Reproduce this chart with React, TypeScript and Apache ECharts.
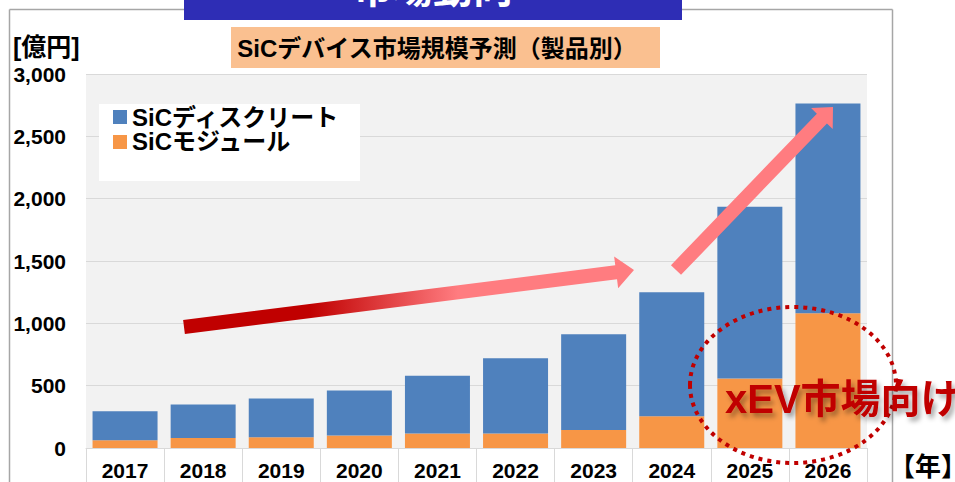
import React, { useEffect, useRef } from "react";
import * as echarts from "echarts";

const years = ["2017", "2018", "2019", "2020", "2021", "2022", "2023", "2024", "2025", "2026"];
const moduleValues = [62, 80, 86, 100, 116, 116, 145, 255, 558, 1080];
const discreteValues = [233, 269, 311, 361, 463, 603, 767, 994, 1377, 1683];
const seriesNames = ["SiCディスクリート", "SiCモジュール"];
const yMax = 3000;
const yInterval = 500;

const FONT = "'Liberation Sans', 'Noto Sans CJK JP', sans-serif";

function arrowPoints(
  sx: number, sy: number, tx: number, ty: number,
  shaftHalf: number, headLen: number, headHalf: number
): number[][] {
  const dx = tx - sx;
  const dy = ty - sy;
  const len = Math.sqrt(dx * dx + dy * dy);
  const ux = dx / len;
  const uy = dy / len;
  const nx = -uy;
  const ny = ux;
  const bx = tx - headLen * ux;
  const by = ty - headLen * uy;
  return [
    [sx + shaftHalf * nx, sy + shaftHalf * ny],
    [bx + shaftHalf * nx, by + shaftHalf * ny],
    [bx + headHalf * nx, by + headHalf * ny],
    [tx, ty],
    [bx - headHalf * nx, by - headHalf * ny],
    [bx - shaftHalf * nx, by - shaftHalf * ny],
    [sx - shaftHalf * nx, sy - shaftHalf * ny],
  ];
}

export default function App() {
  const ref = useRef<HTMLDivElement>(null);

  useEffect(() => {
    if (!ref.current) return;
    const chart = echarts.init(ref.current, undefined, { renderer: "svg" });

    const gradient = new echarts.graphic.LinearGradient(0, 0, 1, 0, [
      { offset: 0, color: "#c00000" },
      { offset: 0.28, color: "#c00000" },
      { offset: 0.61, color: "#ff7c80" },
      { offset: 1, color: "#ff7c80" },
    ]);

    chart.setOption({
      animation: false,
      backgroundColor: "#ffffff",
      textStyle: { fontFamily: FONT },
      grid: {
        left: 86,
        right: 88,
        top: 74,
        bottom: 34,
        show: true,
        backgroundColor: "#f2f2f2",
        borderWidth: 0,
      },
      legend: {
        orient: "vertical",
        left: 113,
        top: 105,
        padding: 0,
        itemWidth: 14,
        itemHeight: 14,
        itemGap: 1,
        icon: "rect",
        selectedMode: false,
        data: seriesNames,
        textStyle: { fontSize: 24, fontWeight: "bold", color: "#000", fontFamily: FONT },
        z: 10,
      },
      xAxis: {
        type: "category",
        data: years,
        axisLine: { show: true, lineStyle: { color: "#d9d9d9" } },
        axisTick: { show: true, length: 40, interval: 0, alignWithLabel: false, lineStyle: { color: "#d9d9d9" } },
        axisLabel: { fontSize: 21, fontWeight: "bold", color: "#000", margin: 12, fontFamily: FONT, interval: 0 },
      },
      yAxis: {
        type: "value",
        min: 0,
        max: yMax,
        interval: yInterval,
        axisLine: { show: false },
        axisTick: { show: false },
        splitLine: { lineStyle: { color: "#d9d9d9", width: 1 } },
        axisLabel: {
          fontSize: 21,
          fontWeight: "bold",
          color: "#000",
          margin: 20,
          fontFamily: FONT,
          formatter: (v: number) => v.toLocaleString("en-US"),
        },
      },
      series: [
        {
          name: seriesNames[1],
          type: "bar",
          stack: "total",
          barWidth: 65,
          data: moduleValues,
          itemStyle: { color: "#f79646" },
        },
        {
          name: seriesNames[0],
          type: "bar",
          stack: "total",
          barWidth: 65,
          data: discreteValues,
          itemStyle: { color: "#4f81bd" },
        },
      ],
      graphic: [
        // frame
        { type: "line", z: 1, shape: { x1: 9.5, y1: 9.5, x2: 892.5, y2: 9.5 }, style: { stroke: "#a6a6a6", lineWidth: 1.5 } },
        { type: "line", z: 1, shape: { x1: 9.5, y1: 9.5, x2: 9.5, y2: 482 }, style: { stroke: "#a6a6a6", lineWidth: 1.5 } },
        { type: "line", z: 1, shape: { x1: 892.5, y1: 9.5, x2: 892.5, y2: 482 }, style: { stroke: "#a6a6a6", lineWidth: 1.5 } },
        // banner
        { type: "rect", z: 2, shape: { x: 184, y: 0, width: 498, height: 20 }, style: { fill: "#2e2db5" } },
        {
          type: "text", z: 3, x: 433, y: 9,
          style: { text: "市場動向", fill: "#ffffff", fontSize: 40, fontWeight: "bold", fontFamily: FONT, align: "center", verticalAlign: "bottom" },
        },
        // title box
        { type: "rect", z: 2, shape: { x: 231, y: 27, width: 429, height: 41 }, style: { fill: "#fac090" } },
        {
          type: "text", z: 3, x: 437, y: 48,
          style: { text: "SiCデバイス市場規模予測（製品別）", fill: "#000", fontSize: 24, fontWeight: "bold", fontFamily: FONT, align: "center", verticalAlign: "middle" },
        },
        // unit label
        {
          type: "text", z: 3, x: 13, y: 47,
          style: { text: "[億円]", fill: "#000", fontSize: 25, fontWeight: "bold", fontFamily: FONT, align: "left", verticalAlign: "middle" },
        },
        // year label
        {
          type: "text", z: 3, x: 889, y: 467,
          style: { text: "【年】", fill: "#000", fontSize: 26, fontWeight: "bold", fontFamily: FONT, align: "left", verticalAlign: "middle" },
        },
        // legend background
        { type: "rect", z: 3, shape: { x: 99, y: 104, width: 261, height: 77 }, style: { fill: "#ffffff" } },
        // arrows
        {
          type: "polygon", z: 5,
          shape: { points: arrowPoints(184, 327, 634, 270, 7, 18, 16) },
          style: { fill: gradient },
        },
        {
          type: "polygon", z: 5,
          shape: { points: arrowPoints(676, 270, 833, 107, 7, 16, 15) },
          style: { fill: "#ff7c80" },
        },
        // dotted ellipse
        {
          type: "ellipse", z: 6,
          shape: { cx: 793, cy: 385, rx: 103, ry: 78 },
          style: { fill: "none", stroke: "#c00000", lineWidth: 4, lineDash: [4, 5] },
        },
        {
          type: "text", z: 7, x: 725, y: 399,
          style: {
            text: "xEV市場向け", fill: "#c00000", fontSize: 40, fontWeight: "bold", fontFamily: FONT,
            align: "left", verticalAlign: "middle",
            textShadowColor: "rgba(0,0,0,0.35)", textShadowBlur: 5, textShadowOffsetX: 3, textShadowOffsetY: 4,
          },
        },
      ],
    });

    return () => chart.dispose();
  }, []);

  return (
    <div
      ref={ref}
      style={{ position: "absolute", left: 0, top: 0, width: 955, height: 482, background: "#fff" }}
    />
  );
}
